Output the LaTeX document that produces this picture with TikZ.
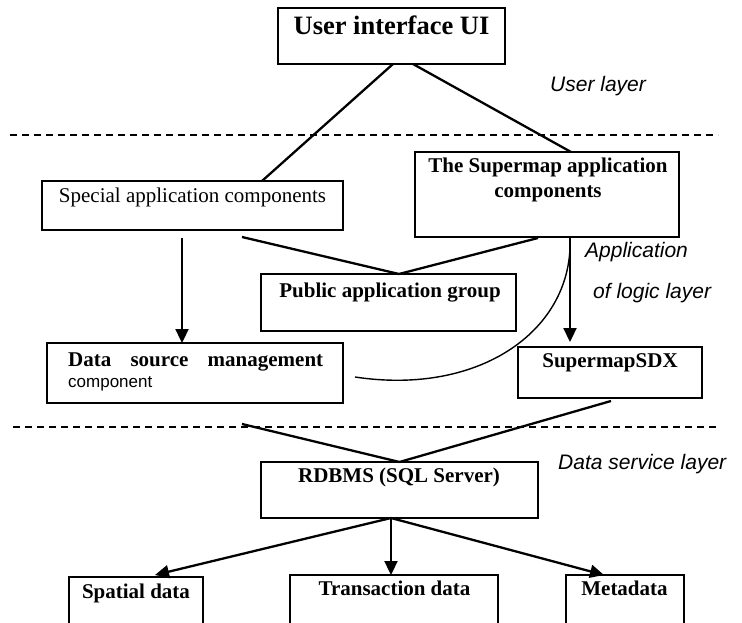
\documentclass[tikz,border=0pt]{standalone}
\usepackage{fontspec}
\setmainfont{Liberation Serif}
\newfontfamily\arialfont{Liberation Sans}
\usetikzlibrary{arrows.meta,calc}
\begin{document}
\begin{tikzpicture}[x=1pt,y=-1pt,
  box/.style={draw, line width=2pt, rectangle, inner sep=0pt, outer sep=0pt},
  conn/.style={line width=2.3pt},
  arr/.style={line width=2.3pt, -{Triangle[length=14pt,width=13pt]}},
  thin curve/.style={line width=1.4pt},
  layerline/.style={line width=1.6pt, dash pattern=on 7pt off 5pt},
  txt/.style={inner sep=0pt, anchor=base},
  tbig/.style={txt, font=\fontsize{26.5pt}{30pt}\selectfont\bfseries},
  tb/.style={txt, font=\fontsize{21pt}{24pt}\selectfont\bfseries},
  tr/.style={txt, font=\fontsize{21pt}{24pt}\selectfont},
  tsans/.style={txt, font=\arialfont\fontsize{17pt}{20pt}\selectfont},
  tlayer/.style={txt, anchor=base west, font=\arialfont\itshape\fontsize{21pt}{24pt}\selectfont}
]
\useasboundingbox (0,0) rectangle (742,623);
\clip (0,0) rectangle (742,623);
\fill[white] (0,0) rectangle (742,623);

% layer separators
\coordinate (d1a) at (10,135);
\coordinate (d1b) at (718,135);
\coordinate (d2a) at (13,427);
\coordinate (d2b) at (718,427);
\draw[layerline] (d1a) -- (d1b);
\draw[layerline] (d2a) -- (d2b);

% boxes
\node[box, minimum width=227pt, minimum height=56pt] (ui) at (391.5,36) {};
\node[box, minimum width=301pt, minimum height=49pt] (special) at (192.5,205.5) {};
\node[box, minimum width=264pt, minimum height=85pt] (super) at (547,194.5) {};
\node[box, minimum width=255pt, minimum height=57pt] (public) at (388.5,302.5) {};
\node[box, minimum width=296pt, minimum height=60pt] (datasrc) at (195,373) {};
\node[box, minimum width=184pt, minimum height=51pt] (sdx) at (610,372.5) {};
\node[box, minimum width=277pt, minimum height=56pt] (rdbms) at (399.5,490) {};
\node[box, minimum width=134pt, minimum height=80pt] (spatial) at (136,617) {};
\node[box, minimum width=208pt, minimum height=80pt] (trans) at (394,615) {};
\node[box, minimum width=118pt, minimum height=80pt] (meta) at (625,615) {};

% texts
\node[tbig] (uit) at (391.5,35) {User interface UI};
\node[tr] (spt) at (192.5,202) {Special application components};
\node[tb] (sut1) at (548,173) {The Supermap application};
\node[tb] (sut2) at (548,197) {components};
\node[tb] (put) at (390,297) {Public application group};
\node[txt, anchor=base west, font=\fontsize{21pt}{24pt}\selectfont\bfseries] (dst1) at (68,366) {\makebox[255pt][s]{Data source management}};
\node[tsans, anchor=base west] (dst2) at (68,387) {component};
\node[tb] (sdxt) at (610,367) {SupermapSDX};
\node[tb] (rdt) at (399,482) {RDBMS (SQL Server)};
\node[tb] (spt2) at (136,598) {Spatial data};
\node[tb] (trt) at (394.5,595) {Transaction data};
\node[tb] (met) at (624.5,595) {Metadata};

% layer labels
\node[tlayer] (l1) at (550,92) {User layer};
\node[tlayer] (l2) at (585,257) {Application};
\node[tlayer] (l3) at (593,298) {of logic layer};
\node[tlayer] (l4) at (558,469) {Data service layer};

% connectors
\draw[conn] ([xshift=1.5pt]ui.south) -- ([xshift=69.5pt]special.north);
\draw[conn] ([xshift=21.5pt]ui.south) -- ([xshift=24pt]super.north);
\draw[conn] ([xshift=49.5pt,yshift=-7pt]special.south) -- ([xshift=10.5pt]public.north);
\draw[conn] ([xshift=-9pt,yshift=-1pt]super.south) -- ([xshift=10.5pt]public.north);
\draw[arr] ([xshift=-10.5pt,yshift=-8pt]special.south) -- ([xshift=-13pt]datasrc.north);
\draw[arr] ([xshift=23pt]super.south) -- ([xshift=-40pt,yshift=5pt]sdx.north);
\draw[thin curve] ([xshift=12pt,yshift=-4pt]datasrc.east) .. controls (480,396) and (574,330) .. ([xshift=23pt]super.south);
\draw[conn] ([xshift=47pt,yshift=-21pt]datasrc.south) -- (rdbms.north);
\draw[conn] ([xshift=1pt,yshift=-3pt]sdx.south) -- (rdbms.north);
\draw[arr] ([xshift=-8.5pt]rdbms.south) -- ([xshift=19pt,yshift=2pt]spatial.north);
\draw[arr] ([xshift=-8.5pt]rdbms.south) -- ([xshift=-3pt]trans.north);
\draw[arr] ([xshift=-8.5pt]rdbms.south) -- ([xshift=-21pt]meta.north);
\end{tikzpicture}
\end{document}
